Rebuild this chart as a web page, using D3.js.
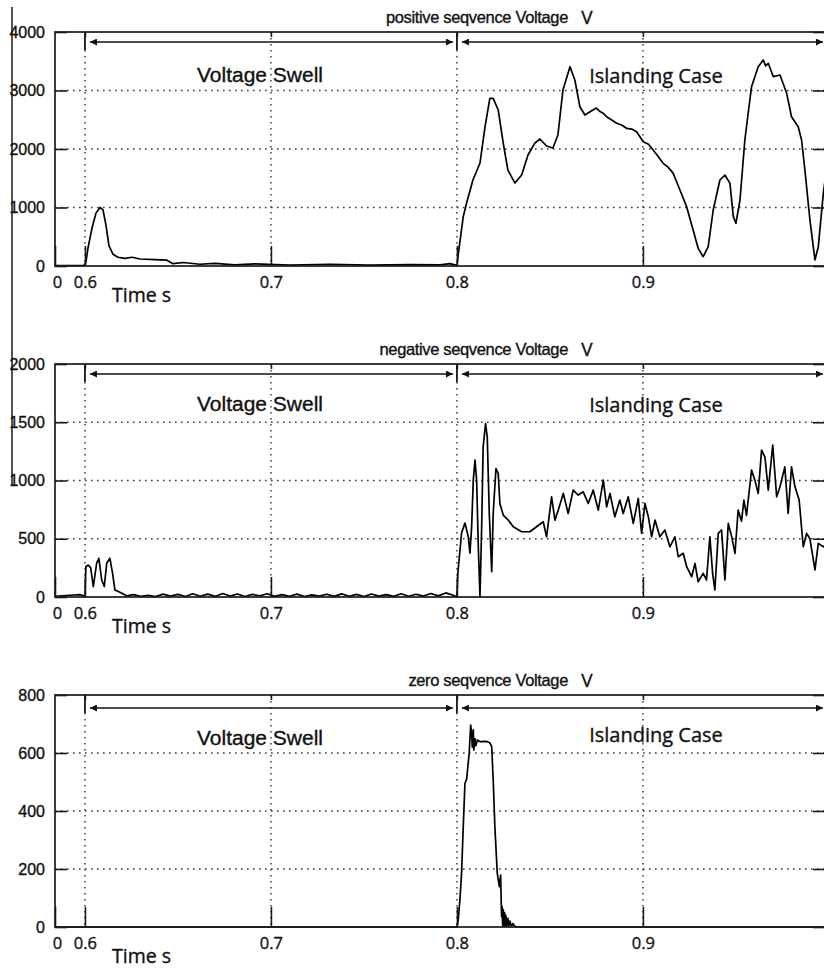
<!DOCTYPE html>
<html>
<head>
<meta charset="utf-8">
<script src="https://cdn.jsdelivr.net/npm/d3@7/dist/d3.min.js"></script>
<style>
  html, body { margin: 0; padding: 0; background: #fff; }
  svg { display: block; }
</style>
</head>
<body>
<svg id="chart" width="824" height="969"></svg>
<script>
// ---------------- DATA ----------------
const timeTicks = [0.5839, 0.6, 0.7, 0.8, 0.9];
const timeTickLabels = ["0", "0.6", "0.7", "0.8", "0.9"];
const gridTimes = [0.6, 0.7, 0.8, 0.9];
const timeDomain = [0.5839, 0.9979];
const swellRange = [0.6, 0.8];
const islandStart = 0.8;

const titles = ["positive seqvence Voltage", "negative seqvence Voltage", "zero seqvence Voltage"];
const unitLabel = "V";
const regionLabels = ["Voltage Swell", "Islanding Case"];
const xAxisLabel = "Time s";

const posTicks = [0, 1000, 2000, 3000, 4000];
const negTicks = [0, 500, 1000, 1500, 2000];
const zeroTicks = [0, 200, 400, 600, 800];

const posTime = [0.5839,0.5995,0.6005,0.6016,0.6038,0.6059,0.6081,0.6097,0.6113,0.6129,
  0.6151,0.6177,0.6215,0.6253,0.6296,0.6376,0.6441,0.6473,0.6527,0.6618,
  0.6699,0.6806,0.6914,0.7102,0.7317,0.7532,0.7747,0.7909,0.7962,0.7989,
  0.8000,0.8008,0.8034,0.8052,0.8086,0.8124,0.8151,0.8177,0.8195,0.8222,
  0.8249,0.8274,0.8312,0.8348,0.8382,0.8419,0.8446,0.8482,0.8516,0.8543,
  0.8570,0.8608,0.8634,0.8661,0.8688,0.8731,0.8750,0.8769,0.8787,0.8805,
  0.8830,0.8859,0.8885,0.8912,0.8940,0.8966,0.9002,0.9030,0.9055,0.9080,
  0.9109,0.9135,0.9163,0.9199,0.9235,0.9270,0.9297,0.9324,0.9351,0.9378,
  0.9414,0.9441,0.9468,0.9486,0.9500,0.9522,0.9548,0.9584,0.9620,0.9647,
  0.9660,0.9674,0.9701,0.9737,0.9773,0.9799,0.9835,0.9853,0.9871,0.9898,
  0.9925,0.9943,0.9970,0.9985];
const posVolt = [5,10,60,300,650,900,1000,960,700,350,
  200,150,130,150,120,110,100,40,60,30,
  45,20,35,15,30,15,25,20,40,20,
  0,220,843,1077,1470,1760,2380,2866,2866,2667,
  2100,1640,1418,1555,1897,2100,2171,2051,2017,2239,
  3008,3407,3179,2723,2581,2667,2700,2640,2610,2552,
  2500,2439,2410,2354,2340,2296,2125,2080,1983,1880,
  1755,1690,1584,1299,1014,615,302,159,330,957,
  1470,1555,1413,843,730,1128,2154,3065,3407,3521,
  3420,3465,3236,3265,2952,2552,2381,2154,1641,786,
  103,330,1243,1600];

const negTime = [0.5839,0.5919,0.5973,0.5995,0.6000,0.6005,0.6018,0.6031,0.6045,0.6063,
  0.6075,0.6090,0.6104,0.6117,0.6134,0.6149,0.6161,0.6188,0.6224,
  0.626,0.630,0.634,0.638,0.642,0.646,0.650,0.654,0.658,0.662,
  0.666,0.670,0.674,0.678,0.682,0.686,0.690,0.694,0.698,0.702,
  0.706,0.710,0.714,0.718,0.722,0.726,0.730,0.734,0.738,0.742,
  0.746,0.750,0.754,0.758,0.762,0.766,0.770,0.774,0.778,0.782,
  0.786,0.790,0.794,0.798,
  0.8000,0.8005,0.8025,0.8043,0.8061,0.8070,0.8079,0.8088,0.8097,0.8106,
  0.8115,0.8124,0.8133,0.8141,0.8154,0.8163,0.8174,0.8187,0.8195,0.8210,
  0.8222,0.8231,0.8249,0.8276,0.8303,0.8348,0.8392,0.8428,0.8464,0.8482,
  0.8509,0.8527,0.8545,0.8572,0.8598,0.8625,0.8652,0.8679,0.8706,0.8733,
  0.8760,0.8787,0.8805,0.8823,0.8849,0.8876,0.8894,0.8921,0.8948,0.8975,
  0.8993,0.9011,0.9029,0.9047,0.9065,0.9091,0.9118,0.9145,0.9172,0.9190,
  0.9217,0.9235,0.9262,0.9280,0.9297,0.9324,0.9342,0.9360,0.9375,0.9387,
  0.9405,0.9423,0.9441,0.9459,0.9477,0.9495,0.9512,0.9530,0.9543,0.9557,
  0.9584,0.9602,0.9620,0.9638,0.9656,0.9674,0.9698,0.9719,0.9737,0.9763,
  0.9781,0.9799,0.9817,0.9840,0.9862,0.9880,0.9898,0.9925,0.9943,0.9970,
  0.9985];
const negVolt = [5,15,20,10,0,260,274,250,88,290,
  332,146,90,290,332,200,60,40,10,
  20,5,15,3,25,8,22,4,28,6,
  25,5,30,8,26,4,22,10,28,5,
  20,6,25,4,18,8,24,5,27,6,
  22,4,26,7,20,5,28,6,24,8,
  30,10,35,15,
  0,206,549,635,517,377,600,1003,1175,1003,
  431,0,600,1289,1489,1375,717,217,717,1103,
  1060,803,703,660,603,560,560,603,646,517,
  860,660,746,889,717,917,875,903,803,917,
  746,1003,774,889,689,832,717,860,632,846,
  546,803,689,517,660,517,575,431,517,346,
  375,260,174,289,131,203,146,517,200,60,
  546,575,146,632,520,375,746,650,832,700,
  1089,1003,889,1261,1200,917,1303,860,946,1117,
  717,1117,950,832,431,546,500,232,460,431,
  450];

const zeroTime = [0.5839,0.8000,0.8007,0.8016,0.8025,0.8034,0.8043,0.8052,0.8066,
  0.8074,0.8079,0.8083,0.8088,0.8091,0.8097,0.8102,0.8110,0.8124,
  0.8160,0.8177,0.8187,0.8195,0.8204,0.8217,0.8228,0.8235,0.8240,
  0.8243,0.8246,0.8249,0.8253,0.8256,0.8260,0.8263,0.8268,0.8274,0.8279,
  0.8285,0.8293,0.8301,0.8312,0.8323,0.9985];
const zeroVolt = [0,0,24,93,185,346,495,510,599,
  696,667,620,680,610,650,625,645,639,
  640,635,621,507,346,185,139,179,36,
  70,5,60,5,50,3,40,3,30,2,
  20,2,12,2,0,0];

// ---------------- LAYOUT ----------------
const left = 55, right = 825;
const panels = [
  { top: 32,  bottom: 266, ticks: posTicks,  title: titles[0], time: posTime,  volt: posVolt,  arrowOff: 10, swellBase: 82,  islandBase: 83 },
  { top: 364, bottom: 597, ticks: negTicks,  title: titles[1], time: negTime,  volt: negVolt,  arrowOff: 10, swellBase: 411, islandBase: 412 },
  { top: 695, bottom: 927, ticks: zeroTicks, title: titles[2], time: zeroTime, volt: zeroVolt, arrowOff: 13, swellBase: 745, islandBase: 742 }
];

const svg = d3.select("#chart");
const x = d3.scaleLinear().domain(timeDomain).range([left, right]);

const defs = svg.append("defs");
defs.append("marker").attr("id", "ah").attr("viewBox", "0 0 10 10")
  .attr("refX", 10).attr("refY", 5).attr("markerWidth", 11).attr("markerHeight", 7)
  .attr("markerUnits", "userSpaceOnUse").attr("orient", "auto-start-reverse")
  .append("path").attr("d", "M0,0 L10,5 L0,10 Z").attr("fill", "#111");

const ink = "#1a1a1a";
const thick = sel => sel.attr("stroke", "#111").attr("stroke-width", 0.35);

// left outer vertical line
svg.append("line").attr("x1", 12).attr("x2", 12).attr("y1", 7).attr("y2", 485)
  .attr("stroke", ink).attr("stroke-width", 1.5);

panels.forEach((p, i) => {
  const y = d3.scaleLinear().domain([0, d3.max(p.ticks)]).range([p.bottom, p.top]);
  const g = svg.append("g");

  defs.append("clipPath").attr("id", "clip" + i).append("rect")
    .attr("x", left).attr("y", p.top - 2).attr("width", right - left).attr("height", p.bottom - p.top + 4);

  // grid
  const grid = g.append("g").attr("stroke", "#3a3a3a").attr("stroke-width", 1.5)
    .attr("stroke-dasharray", "1.6,4.4");
  p.ticks.filter(v => v > 0 && v < d3.max(p.ticks)).forEach(v => {
    grid.append("line").attr("x1", left).attr("x2", right).attr("y1", y(v)).attr("y2", y(v));
  });
  gridTimes.forEach(t => {
    grid.append("line").attr("x1", x(t)).attr("x2", x(t)).attr("y1", p.top).attr("y2", p.bottom);
  });

  // data line
  const pts = d3.zip(p.time, p.volt);
  g.append("path").datum(pts)
    .attr("clip-path", "url(#clip" + i + ")")
    .attr("fill", "none").attr("stroke", "#000").attr("stroke-width", 1.7)
    .attr("stroke-linejoin", "round")
    .attr("d", d3.line().x(d => x(d[0])).y(d => y(d[1])));

  // axes
  const la = g.append("g").attr("transform", `translate(${left},0)`)
    .call(d3.axisLeft(y).tickValues(p.ticks).tickSize(-12).tickPadding(10).tickFormat(d3.format("d")));
  la.select(".domain").remove();
  la.selectAll("line").attr("stroke", ink).attr("stroke-width", 1.6);
  la.selectAll("text").attr("font-family", "'Liberation Sans', Arial, sans-serif")
    .attr("font-size", 16).attr("fill", "#111").call(thick);

  const ra = g.append("g").attr("transform", `translate(${right},0)`)
    .call(d3.axisRight(y).tickValues(p.ticks).tickSize(-12).tickFormat(""));
  ra.select(".domain").remove();
  ra.selectAll("line").attr("stroke", ink).attr("stroke-width", 1.6);

  const ba = g.append("g").attr("transform", `translate(0,${p.bottom})`)
    .call(d3.axisBottom(x).tickValues(timeTicks).tickSize(-20).tickPadding(10)
      .tickFormat((d, k) => timeTickLabels[k]));
  ba.select(".domain").remove();
  ba.selectAll("line").attr("stroke", ink).attr("stroke-width", 1.6);
  ba.selectAll("text").attr("font-family", "'Open Sans', sans-serif")
    .attr("font-size", 16.5).attr("fill", "#111").call(thick);
  ba.selectAll(".tick").filter((d, k) => k === 0).select("text").attr("dx", 2);

  const ta = g.append("g").attr("transform", `translate(0,${p.top})`)
    .call(d3.axisTop(x).tickValues(gridTimes).tickSize(-5).tickFormat(""));
  ta.select(".domain").remove();
  ta.selectAll("line").attr("stroke", ink).attr("stroke-width", 1.6);

  // box
  g.append("rect").attr("x", left).attr("y", p.top).attr("width", right - left)
    .attr("height", p.bottom - p.top).attr("fill", "none").attr("stroke", ink).attr("stroke-width", 1.7);

  // region marker bars
  [swellRange[0], islandStart].forEach(t => {
    g.append("line").attr("x1", x(t)).attr("x2", x(t)).attr("y1", p.top).attr("y2", p.top + 18)
      .attr("stroke", ink).attr("stroke-width", 1.8);
  });

  // arrows
  const ay = p.top + p.arrowOff;
  g.append("line").attr("x1", x(swellRange[0]) + 5).attr("x2", x(swellRange[1]) - 4)
    .attr("y1", ay).attr("y2", ay).attr("stroke", "#111").attr("stroke-width", 1.7)
    .attr("marker-start", "url(#ah)").attr("marker-end", "url(#ah)");
  g.append("line").attr("x1", x(islandStart) + 5).attr("x2", x(timeDomain[1]) - 2)
    .attr("y1", ay).attr("y2", ay).attr("stroke", "#111").attr("stroke-width", 1.7)
    .attr("marker-start", "url(#ah)").attr("marker-end", "url(#ah)");

  // region labels
  g.append("text").attr("x", 260).attr("y", p.swellBase).attr("text-anchor", "middle")
    .attr("font-family", "'Liberation Sans', Arial, sans-serif").attr("font-size", 20.5)
    .attr("textLength", 126).attr("lengthAdjust", "spacingAndGlyphs")
    .attr("fill", "#111").call(thick).text(regionLabels[0]);
  g.append("text").attr("x", 656).attr("y", p.islandBase).attr("text-anchor", "middle")
    .attr("font-family", "'Open Sans', sans-serif").attr("font-size", 20)
    .attr("fill", "#111").call(thick).text(regionLabels[1]);

  // title
  g.append("text").attr("x", 568).attr("y", p.top - 9).attr("text-anchor", "end")
    .attr("font-family", "'Liberation Sans', Arial, sans-serif").attr("font-size", 16.5)
    .attr("letter-spacing", -0.35).attr("fill", "#111").call(thick).text(p.title);
  g.append("text").attr("x", 587).attr("y", p.top - 8).attr("text-anchor", "middle")
    .attr("font-family", "'Open Sans', sans-serif").attr("font-size", 19)
    .attr("fill", "#111").call(thick).text(unitLabel);

  // x axis label
  g.append("text").attr("x", 112).attr("y", p.bottom + 36)
    .attr("font-family", "'Open Sans', sans-serif").attr("font-size", 19.5)
    .attr("fill", "#111").call(thick).text(xAxisLabel);
});
</script>
</body>
</html>
